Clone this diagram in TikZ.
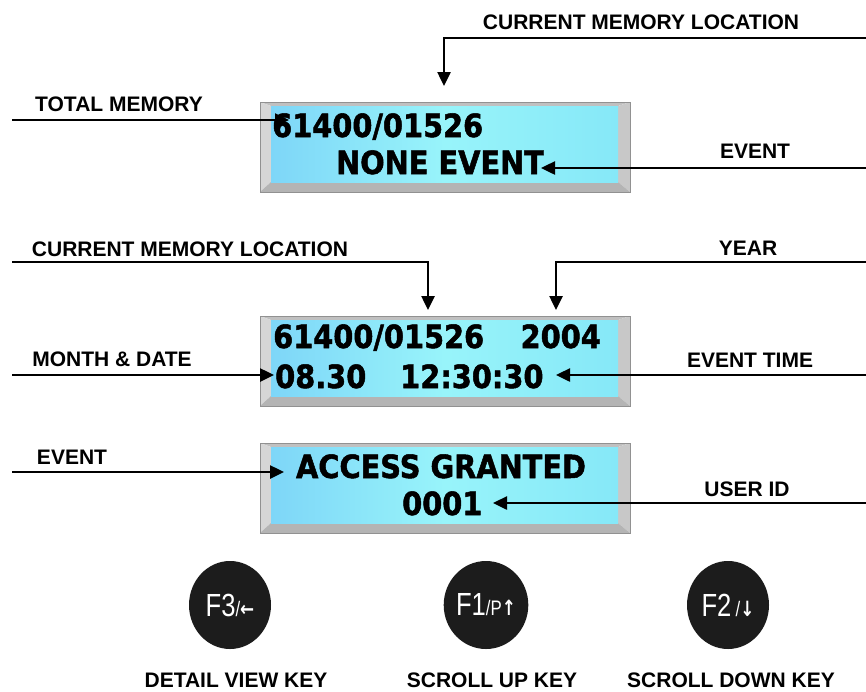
\documentclass[tikz,border=0pt]{standalone}
\usepackage{fontspec}
\setmainfont{Liberation Sans}
\newfontfamily\lcdfont{DejaVu Sans}[BoldFeatures={FakeBold=1.6}]
\newfontfamily\symfont{DejaVu Sans}
\usetikzlibrary{arrows.meta,shapes.geometric}
\definecolor{lcdA}{RGB}{126,214,248}
\definecolor{lcdB}{RGB}{152,244,250}
\definecolor{lcdC}{RGB}{134,232,248}
\definecolor{frmEdge}{RGB}{145,145,145}
\definecolor{frmTop}{RGB}{192,192,192}
\definecolor{frmLeft}{RGB}{214,214,214}
\definecolor{frmRight}{RGB}{200,200,200}
\definecolor{frmBot}{RGB}{180,180,180}
\definecolor{keyblk}{RGB}{28,28,28}
\newcommand\lcdtxt[1]{\scalebox{0.9}[1]{#1}}
\newcommand\keyface[3]{\scalebox{0.8}[1]{\fontsize{32}{32}\selectfont #1\fontsize{21}{21}\selectfont #2\symfont\bfseries\fontsize{21}{21}\selectfont #3}}
\newcommand\lcdpanel[2]{%
  \fill[frmTop] (260,#2) -- (630,#2) -- (618,#2+4) -- (271,#2+4) -- cycle;
  \fill[frmLeft] (260,#2) -- (271,#2+4) -- (271,#2+80) -- (260,#2+90) -- cycle;
  \fill[frmRight] (630,#2) -- (630,#2+90) -- (618,#2+80) -- (618,#2+4) -- cycle;
  \fill[frmBot] (260,#2+90) -- (630,#2+90) -- (618,#2+80) -- (271,#2+80) -- cycle;
  \shade[left color=lcdA, right color=lcdC, middle color=lcdB] (271,#2+4) rectangle (618,#2+80);
  \node[lcdframe] (#1) at (445,#2+45) {};
}
\begin{document}
\begin{tikzpicture}[x=1pt,y=-1pt,
  lbl/.style={font=\bfseries\fontsize{21}{21}\selectfont, inner sep=0pt},
  lcd/.style={font=\lcdfont\bfseries\fontsize{32}{32}\selectfont, inner sep=0pt},
  lcdframe/.style={draw=frmEdge, line width=1pt, minimum width=370pt, minimum height=90pt, inner sep=0pt},
  conn/.style={line width=2.5pt, -{Triangle[length=14pt,width=13pt]}},
  keybtn/.style={ellipse, fill=keyblk, minimum width=82pt, minimum height=88pt, inner sep=0pt, text=white}]
\useasboundingbox (0,0) rectangle (866,691);

% panels
\lcdpanel{d1}{102}
\lcdpanel{d2}{316}
\lcdpanel{d3}{443}

% panel texts
\node[lcd, anchor=base west] (d1a) at (272,137) {\lcdtxt{61400/01526}};
\node[lcd, anchor=base] (d1b) at (440,174) {\lcdtxt{NONE EVENT}};
\node[lcd, anchor=base west] (d2a) at (273,348) {\lcdtxt{61400/01526}};
\node[lcd, anchor=base east] (d2b) at (601,348) {\lcdtxt{2004}};
\node[lcd, anchor=base west] (d2c) at (275,388) {\lcdtxt{08.30}};
\node[lcd, anchor=base west] (d2d) at (400,388) {\lcdtxt{12:30:30}};
\node[lcd, anchor=base] (d3a) at (441,478) {\lcdtxt{ACCESS GRANTED}};
\node[lcd, anchor=base west] (d3b) at (402,515) {\lcdtxt{0001}};

% labels
\node[lbl] (l1) at (641,22) {CURRENT MEMORY LOCATION};
\node[lbl] (l2) at (119,104) {TOTAL MEMORY};
\node[lbl] (l3) at (755,151) {EVENT};
\node[lbl] (l4) at (190,249) {CURRENT MEMORY LOCATION};
\node[lbl] (l5) at (748,248) {YEAR};
\node[lbl] (l6) at (112,359) {MONTH \& DATE};
\node[lbl] (l7) at (750,360) {EVENT TIME};
\node[lbl] (l8) at (72,457) {EVENT};
\node[lbl] (l9) at (747,489) {USER ID};

% connector ends
\coordinate (a1s) at (866,38);  \coordinate (a1t) at (444,86);
\coordinate (a2s) at (12,120);  \coordinate (a2t) at (289,120);
\coordinate (a3s) at (866,168); \coordinate (a3t) at (541,168);
\coordinate (a4s) at (12,262);  \coordinate (a4t) at (428,310);
\coordinate (a5s) at (866,262); \coordinate (a5t) at (556,310);
\coordinate (a6s) at (12,375);  \coordinate (a6t) at (274,375);
\coordinate (a7s) at (866,375); \coordinate (a7t) at (556,375);
\coordinate (a8s) at (12,472);  \coordinate (a8t) at (284,472);
\coordinate (a9s) at (866,503); \coordinate (a9t) at (493,503);

\draw[conn] (a1s) -| (a1t);
\draw[conn] (a2s) -- (a2t);
\draw[conn] (a3s) -- (a3t);
\draw[conn] (a4s) -| (a4t);
\draw[conn] (a5s) -| (a5t);
\draw[conn] (a6s) -- (a6t);
\draw[conn] (a7s) -- (a7t);
\draw[conn] (a8s) -- (a8t);
\draw[conn] (a9s) -- (a9t);

% keys
\node[keybtn] (k3) at (230,605) {\keyface{F3}{/}{←}};
\node[keybtn] (k1) at (486,605) {\keyface{F1}{/P}{↑}};
\node[keybtn] (k2) at (728,605) {\keyface{F2\,}{/}{↓}};

\node[lbl] (kl3) at (236,680) {DETAIL VIEW KEY};
\node[lbl] (kl1) at (492,680) {SCROLL UP KEY};
\node[lbl] (kl2) at (731,680) {SCROLL DOWN KEY};
\end{tikzpicture}
\end{document}
